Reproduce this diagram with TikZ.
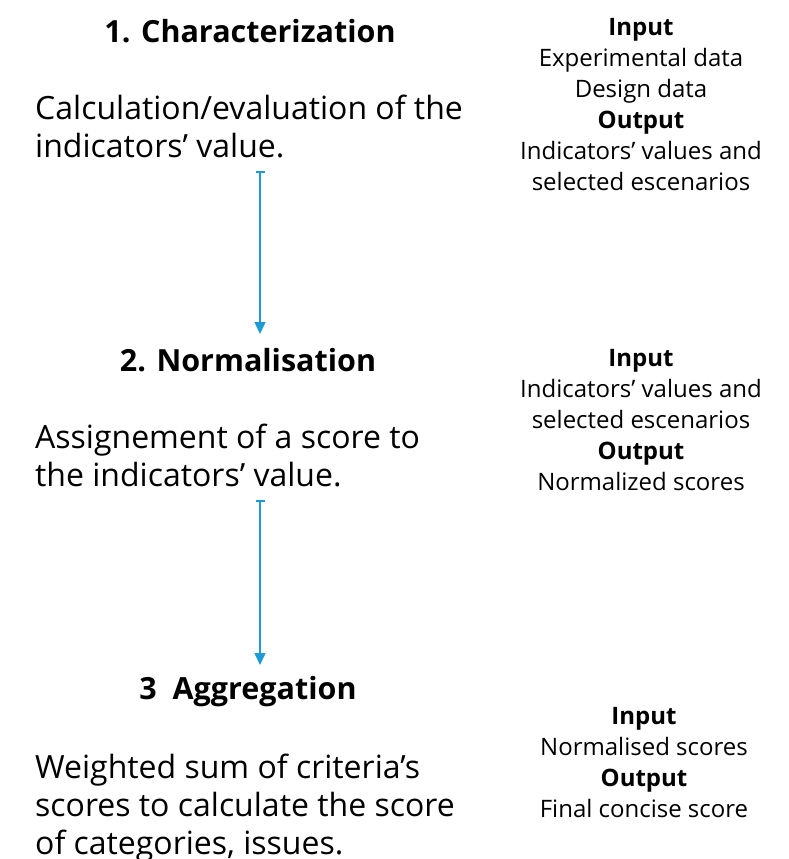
\documentclass[tikz,border=0pt]{standalone}
\usepackage{fontspec}
\setmainfont{Open Sans}
\usetikzlibrary{arrows.meta,positioning}
\definecolor{flowblue}{HTML}{1C9BD7}

\begin{document}
\begin{tikzpicture}[x=1pt, y=-1pt,
  stage/.style={inner sep=0pt, font=\fontsize{30.5}{36}\selectfont\bfseries},
  desc/.style={inner sep=0pt, align=left, font=\fontsize{32}{38}\selectfont},
  io/.style={inner sep=0pt, align=center, font=\fontsize{24}{31}\selectfont},
  flow/.style={{Bar[width=9pt,line width=1.5pt]}-{Triangle[length=12pt,width=11pt]}, line width=1.5pt, flowblue}
]
  \useasboundingbox (0,0) rectangle (789,859);

  % stage 1
  \node[stage, anchor=base] (title1) at (250,43) {1. Characterization};
  \node[desc, anchor=base west] (desc1) at (35,157) {Calculation/evaluation of the\\indicators’ value.};
  \node[io, anchor=base] (io1) at (641,190) {\textbf{Input}\\Experimental data\\Design data\\\textbf{Output}\\Indicators’ values and\\selected escenarios};

  % stage 2
  \node[stage, anchor=base] (title2) at (248,371) {2. Normalisation};
  \node[desc, anchor=base west] (desc2) at (35,486) {Assignement of a score to\\the indicators’ value.};
  \node[io, anchor=base] (io2) at (641,490) {\textbf{Input}\\Indicators’ values and\\selected escenarios\\\textbf{Output}\\Normalized scores};

  % stage 3
  \node[stage, anchor=base] (title3) at (248,699) {3\ \ Aggregation};
  \node[desc, anchor=base west] (desc3) at (35,854) {Weighted sum of criteria’s\\scores to calculate the score\\of categories, issues.};
  \node[io, anchor=base] (io3) at (644,817) {\textbf{Input}\\Normalised scores\\\textbf{Output}\\Final concise score};

  % arrows between stages
  \coordinate (s1) at (260,171);
  \coordinate (e1) at (260,334);
  \coordinate (s2) at (260,500);
  \coordinate (e2) at (260,665);
  \draw[flow] (s1) -- (e1);
  \draw[flow] (s2) -- (e2);
\end{tikzpicture}
\end{document}
